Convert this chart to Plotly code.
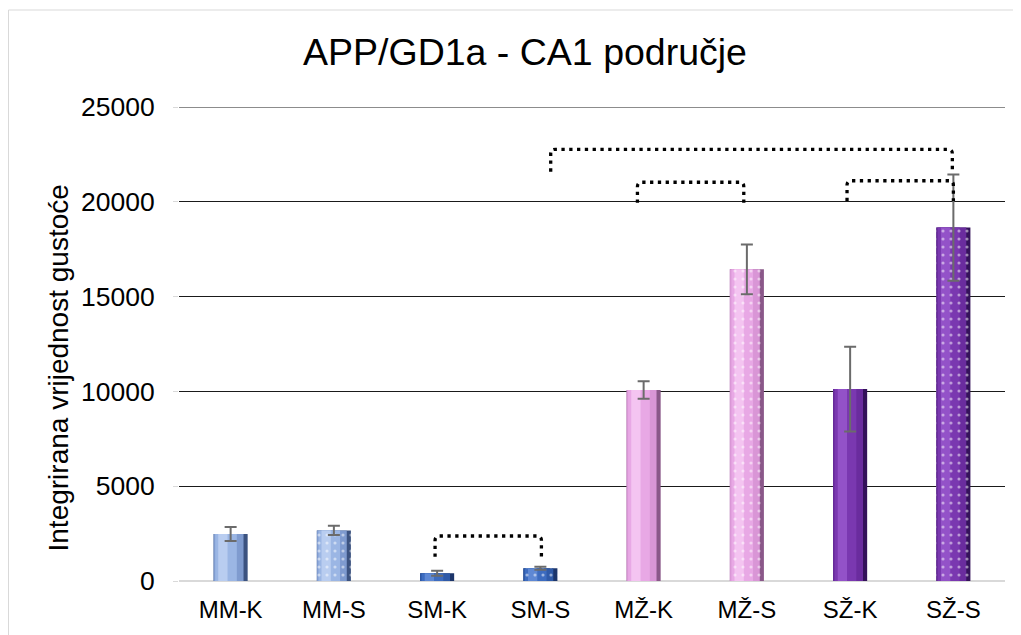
import plotly.graph_objects as go

# ---- data ----
categories = ["MM-K", "MM-S", "SM-K", "SM-S", "MŽ-K", "MŽ-S", "SŽ-K", "SŽ-S"]
values = [2480, 2670, 405, 670, 10070, 16440, 10120, 18640]
errors = [370, 250, 130, 80, 460, 1310, 2240, 2800]
dotted = [False, True, False, True, False, True, False, True]
groups = ["MM", "MM", "SM", "SM", "MZ", "MZ", "SZ", "SZ"]

# significance brackets: left index, right index, top level, left leg end, right leg end
br_left = [1.98, 3.10, 3.94, 5.97]
br_right = [3.01, 6.99, 4.97, 7.00]
br_top = [2373, 22770, 21030, 21110]
br_lbot = [1280, 21590, 19950, 20040]
br_rbot = [1280, 21590, 19950, 20040]

y_max = 25000
y_ticks = [0, 5000, 10000, 15000, 20000, 25000]
y_tick_labels = ["0", "5000", "10000", "15000", "20000", "25000"]

# ---- styles ----
palette = {
    "MM": ["#3c5380", "#7f9bcf", "#9bb6e4", "#b9cdf0"],
    "SM": ["#1c356a", "#2f5aa8", "#3d6cc0", "#5e88d4"],
    "MZ": ["#8a5889", "#d996d6", "#e8a8e5", "#f4c4f1"],
    "SZ": ["#34125a", "#6a2c9e", "#7a38b0", "#9352c8"],
}
# layers (width, offset from centre) from back to front to suggest shading
layers = [(0.33, -0.165), (0.29, -0.165), (0.21, -0.15), (0.09, -0.12)]

FONT = "Liberation Sans, Arial, sans-serif"
GRID = "#1a1a1a"
W, H = 1013, 627
fig = go.Figure()

for li, (w, off) in enumerate(layers):
    fig.add_trace(go.Bar(
        x=categories, y=values,
        width=[w] * len(categories), offset=[off] * len(categories),
        marker=dict(color=[palette[g][li] for g in groups], line=dict(width=0)),
        showlegend=False, hoverinfo="skip",
    ))

# top layer: dots pattern + error bars
fig.add_trace(go.Bar(
    x=categories, y=values,
    width=[0.33] * len(categories), offset=[-0.165] * len(categories),
    marker=dict(
        color="rgba(0,0,0,0)",
        line=dict(width=0),
        pattern=dict(shape=["." if d else "" for d in dotted],
                     fgcolor="white", bgcolor="rgba(0,0,0,0)",
                     size=8, solidity=0.12, fillmode="overlay"),
    ),
    error_y=dict(type="data", array=errors, visible=True,
                 color="#6b6b6b", thickness=2, width=6),
    showlegend=False,
))

# hidden numeric axis for brackets
fig.add_trace(go.Scatter(x=[-0.5, 7.5], y=[0, 0], xaxis="x2", mode="none",
                         showlegend=False, hoverinfo="skip"))

rx, ry = 0.045, 230
for l, r, t, lb, rb in zip(br_left, br_right, br_top, br_lbot, br_rbot):
    path = (f"M {l},{lb} L {l},{t - ry} Q {l},{t} {l + rx},{t} "
            f"L {r - rx},{t} Q {r},{t} {r},{t - ry} L {r},{rb}")
    fig.add_shape(type="path", path=path, xref="x2", yref="y",
                  line=dict(color="black", width=3.3, dash="3.3px,4.5px"),
                  layer="above")

# top gridline (plotly omits gridlines at the exact range edge)
fig.add_shape(type="line", xref="paper", yref="y", x0=0, x1=1,
              y0=y_max, y1=y_max, line=dict(color=GRID, width=1), layer="below")

# chart border (light grey)
fig.add_shape(type="rect", xref="paper", yref="paper",
              x0=(0.5 - 171) / 826, x1=1.2, y0=-0.3, y1=(573 - 2) / 474,
              line=dict(color="#d9d9d9", width=1), layer="below")

fig.update_layout(
    width=W, height=H,
    margin=dict(l=171, r=16, t=99, b=54, autoexpand=False),
    paper_bgcolor="white", plot_bgcolor="white",
    barmode="overlay",
    font=dict(family=FONT, color="black"),
    title=dict(text="APP/GD1a - CA1 područje", x=(525 - 8) / W, xanchor="center",
               xref="container", yref="container",
               y=1 - (52 - 8) / H, yanchor="middle",
               font=dict(size=37.5, family=FONT, color="black")),
    xaxis=dict(type="category", categoryorder="array", categoryarray=categories,
               range=[-0.5, 7.5], showgrid=False, zeroline=False, automargin=False,
               showline=False, ticks="", tickfont=dict(size=24, family=FONT),
               ticklabelstandoff=12),
    xaxis2=dict(overlaying="x", range=[-0.5, 7.5], visible=False),
    yaxis=dict(range=[0, y_max], tickvals=y_ticks, ticktext=y_tick_labels,
               showgrid=True, gridcolor=GRID, gridwidth=1, automargin=False,
               zeroline=True, zerolinecolor="#d9d9d9", zerolinewidth=2,
               showline=False, ticks="outside", ticklen=5, tickcolor="#d9d9d9",
               tickfont=dict(size=26.5, family=FONT), ticklabelstandoff=13),
)

fig.add_annotation(text="Integrirana vrijednost gustoće", textangle=-90,
                   xref="paper", yref="paper",
                   x=(50 - 171) / 826, y=(573 - 360.5) / 474,
                   xanchor="center", yanchor="middle", showarrow=False,
                   font=dict(size=28, family=FONT, color="black"))

fig.write_html("out.html")
